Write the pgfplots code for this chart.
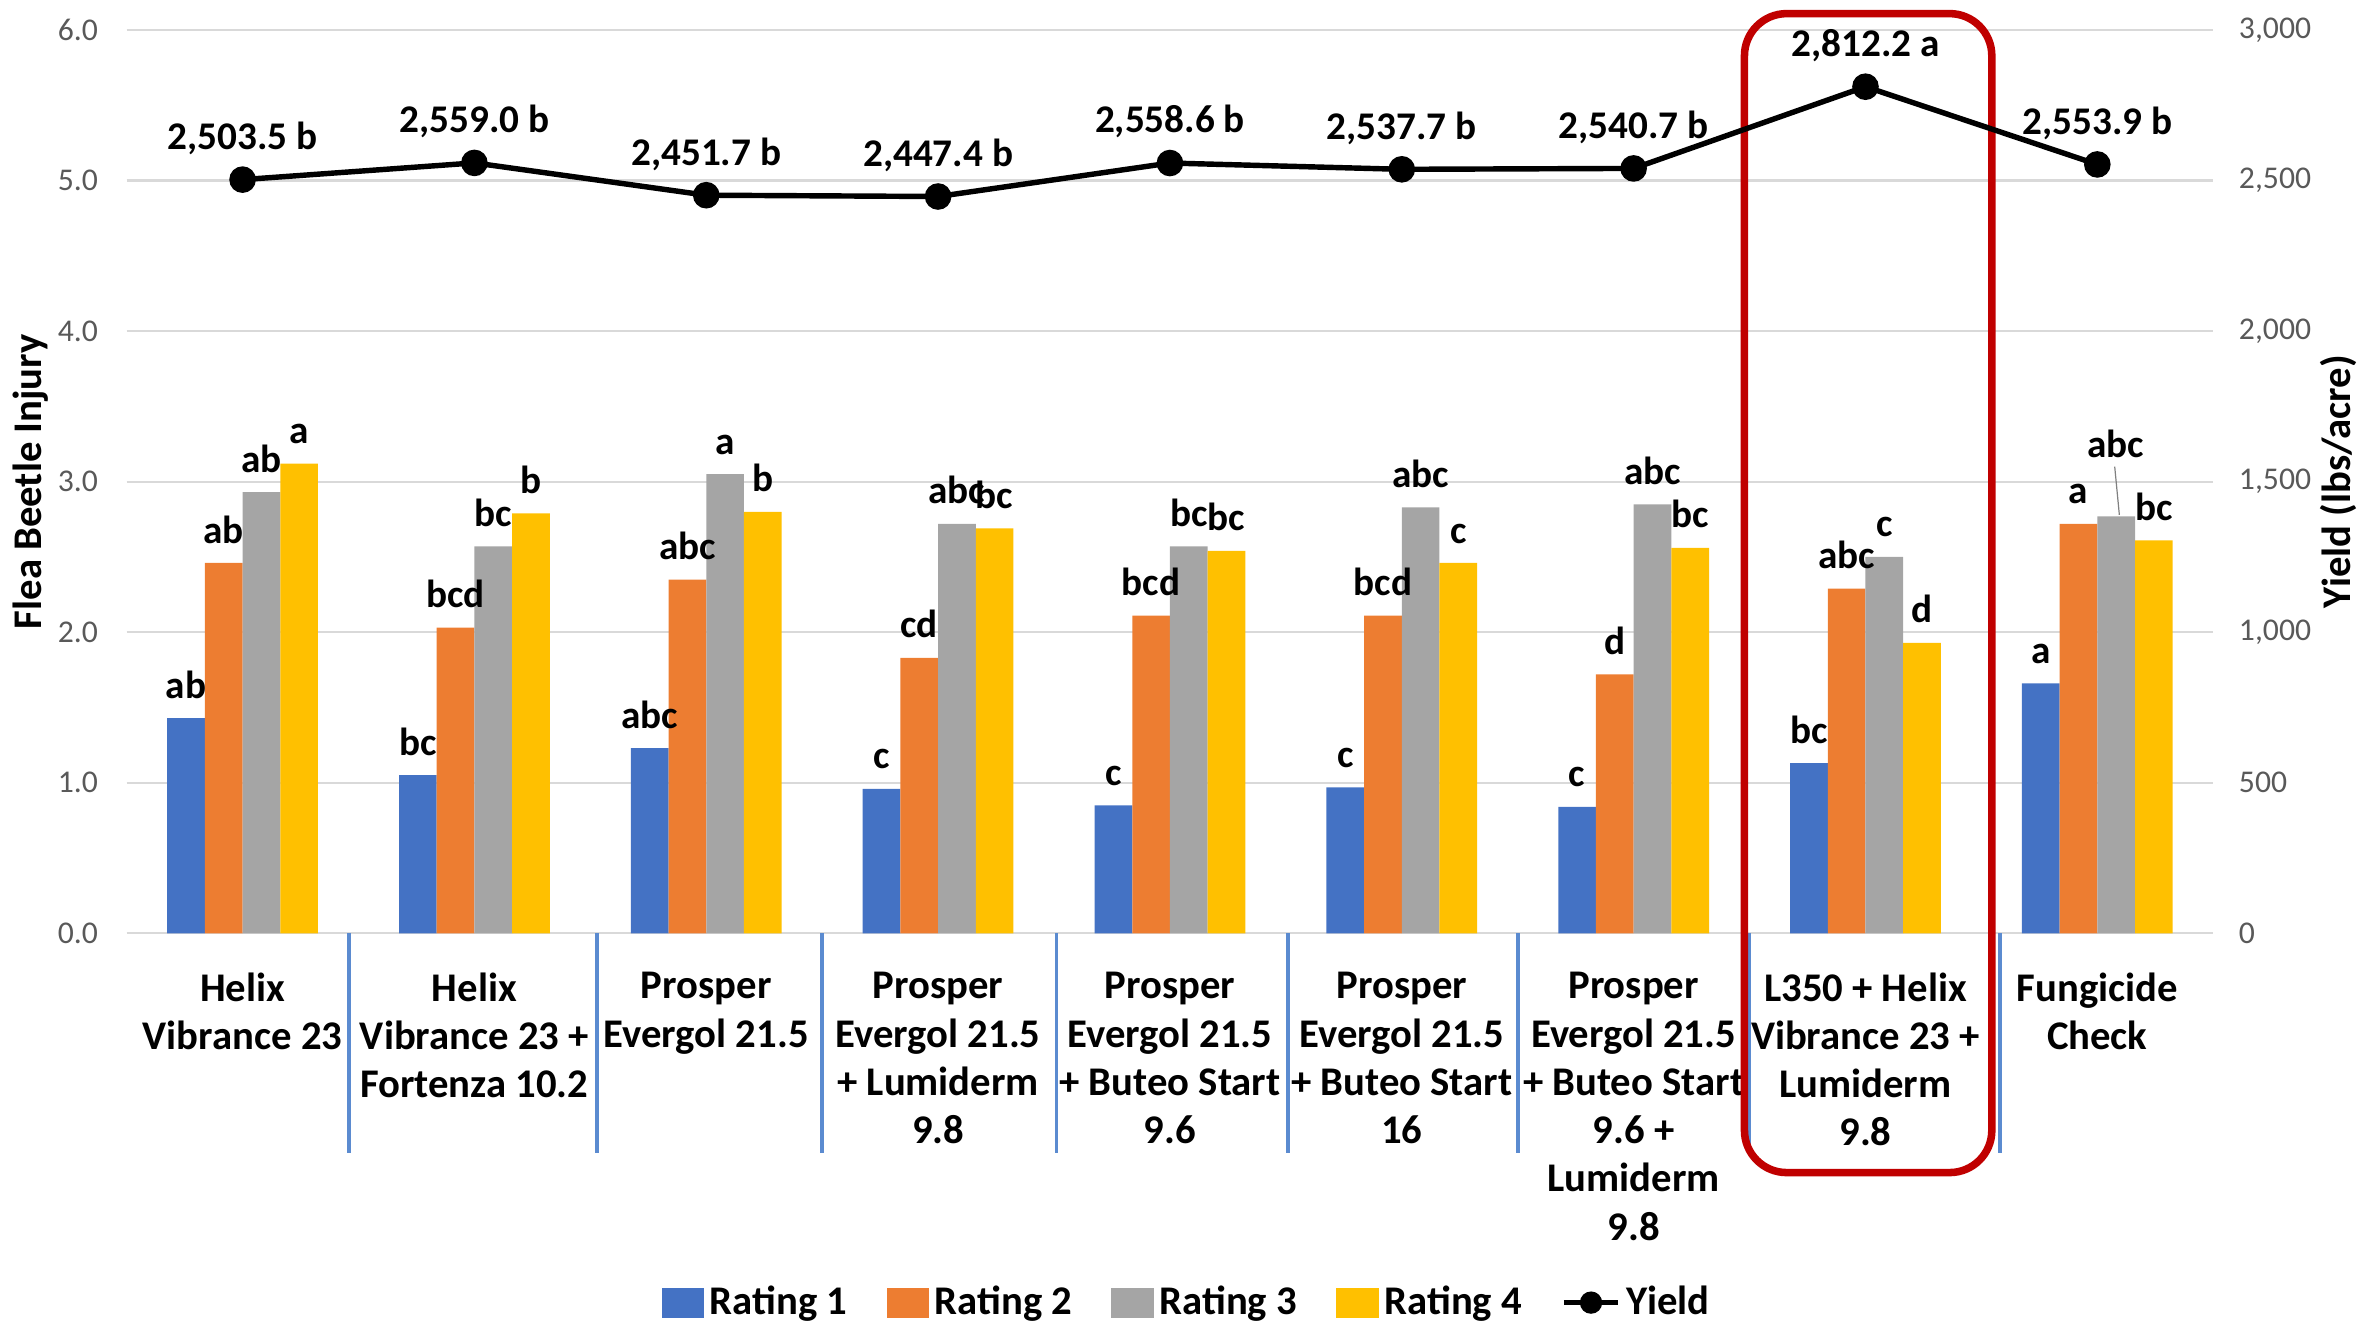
\documentclass[border=0pt]{standalone}
\usepackage{fontspec}
\setmainfont{Carlito}
\usepackage{pgfplots}
\pgfplotsset{compat=1.18}
\usetikzlibrary{calc}
\definecolor{r1}{HTML}{4472C4}
\definecolor{r2}{HTML}{ED7D31}
\definecolor{r3}{HTML}{A5A5A5}
\definecolor{r4}{HTML}{FFC000}
\definecolor{tickgray}{HTML}{595959}
\definecolor{gridgray}{HTML}{D9D9D9}
\definecolor{boxred}{HTML}{C00000}
\definecolor{sepblue}{HTML}{5B8BD0}
\pgfplotsset{
  barleg/.style={legend image code/.code={\fill[##1] (0pt,-5pt) rectangle (14pt,5pt);}},
}
\begin{document}
\begin{tikzpicture}
\begin{axis}[
  name=ax,
  width=692pt, height=299.5pt, scale only axis,
  xmin=-0.5, xmax=8.5, ymin=0, ymax=6,
  ybar=0pt, bar width=12.5pt,
  xtick={0,...,8},
  xticklabels={{Helix\\Vibrance 23},{Helix\\Vibrance 23 +\\Fortenza 10.2},{Prosper\\Evergol 21.5},{Prosper\\Evergol 21.5\\+ Lumiderm\\9.8},{Prosper\\Evergol 21.5\\+ Buteo Start\\9.6},{Prosper\\Evergol 21.5\\+ Buteo Start\\16},{Prosper\\Evergol 21.5\\+ Buteo Start\\9.6 +\\Lumiderm\\9.8},{L350 + Helix\\Vibrance 23 +\\Lumiderm\\9.8},{Fungicide\\Check}},
  xticklabel style={font=\fontsize{13.5}{16}\selectfont\bfseries, align=center, anchor=north, inner sep=0pt, yshift=-12.8pt, execute at begin node=\strut},
  ytick={0,1,...,6},
  yticklabel={\pgfmathprintnumber[fixed,fixed zerofill,precision=1,assume math mode=true]{\tick}},
  yticklabel style={font=\fontsize{10.5}{12}\selectfont, color=tickgray, xshift=-6pt},
  major tick length=0pt,
  ymajorgrids, grid style={gridgray, line width=0.8pt},
  axis line style={draw=none},
  ylabel={Flea Beetle Injury},
  ylabel style={font=\fontsize{13.5}{16}\selectfont\bfseries, at={(axis description cs:-0.046,0.5)}, anchor=center},
  clip=false,
  point meta=explicit symbolic,
  nodes near coords,
  every node near coord/.append style={font=\fontsize{13}{15}\selectfont\bfseries, black, yshift=3pt},
  legend style={at={(0.509,-0.409)}, anchor=center, draw=none, legend columns=5,
    font=\fontsize{13.5}{16}\selectfont\bfseries,
    /tikz/every even column/.append style={column sep=11pt}},
  legend cell align=left,
]
\addplot[fill=r1, draw=none, barleg] coordinates {
(0,1.43)[ab] (1,1.05)[bc] (2,1.23)[abc] (3,0.96)[c] (4,0.85)[c] (5,0.97)[c] (6,0.84)[c] (7,1.13)[bc] (8,1.66)[a]};
\addlegendentry{Rating 1}
\addplot[fill=r2, draw=none, barleg] coordinates {
(0,2.46)[ab] (1,2.03)[bcd] (2,2.35)[abc] (3,1.83)[cd] (4,2.11)[bcd] (5,2.11)[bcd] (6,1.72)[d] (7,2.29)[abc] (8,2.72)[a]};
\addlegendentry{Rating 2}
\addplot[fill=r3, draw=none, barleg] coordinates {
(0,2.93)[ab] (1,2.57)[bc] (2,3.05)[a] (3,2.72)[abc] (4,2.57)[bc] (5,2.83)[abc] (6,2.85)[abc] (7,2.50)[c] (8,2.77)[]};
\addlegendentry{Rating 3}
\addplot[fill=r4, draw=none, barleg] coordinates {
(0,3.12)[a] (1,2.79)[b] (2,2.80)[b] (3,2.69)[bc] (4,2.54)[bc] (5,2.46)[c] (6,2.56)[bc] (7,1.93)[d] (8,2.61)[bc]};
\addlegendentry{Rating 4}
\addlegendimage{legend image code/.code={\draw[black, line width=1.8pt] (0pt,0pt) -- (18pt,0pt); \fill[black] (9pt,0pt) circle (3.5pt);}}
\addlegendentry{Yield}
% annotation for Fungicide Check, Rating 3
\node[font=\fontsize{13}{15}\selectfont\bfseries, anchor=base] at (axis cs:8.08,3.16) {abc};
\draw[gray, line width=0.4pt] (axis cs:8.075,3.1) -- (axis cs:8.095,2.78);
% category separators
\pgfplotsinvokeforeach{0.46,1.53,2.5,3.51,4.51,5.5,6.5,7.58}{
  \draw[sepblue, line width=1.2pt] (axis cs:#1,0) -- (axis cs:#1,-1.46);
}
% highlight box
\draw[boxred, line width=2.5pt, rounded corners=14pt] (axis cs:6.478,6.11) rectangle (axis cs:7.545,-1.59);
\end{axis}
\begin{axis}[
  width=692pt, height=299.5pt, scale only axis,
  xmin=-0.5, xmax=8.5, ymin=0, ymax=3000,
  axis x line=none, axis y line*=right,
  axis line style={draw=none},
  ytick={0,500,...,3000},
  yticklabel={\pgfmathprintnumber[assume math mode=true,1000 sep={,}]{\tick}},
  yticklabel style={font=\fontsize{10.5}{12}\selectfont, color=tickgray, xshift=5pt},
  major tick length=0pt,
  ylabel={Yield (lbs/acre)},
  ylabel style={font=\fontsize{13.5}{16}\selectfont\bfseries, at={(axis description cs:1.06,0.5)}, anchor=center},
  clip=false,
  point meta=explicit symbolic,
  nodes near coords,
  every node near coord/.append style={font=\fontsize{13}{15}\selectfont\bfseries, black, anchor=south, yshift=4pt},
]
\addplot[black, line width=1.8pt, mark=*, mark size=3.5pt, mark options={solid}] coordinates {
(0,2503.5)[2,503.5 b] (1,2559.0)[2,559.0 b] (2,2451.7)[2,451.7 b] (3,2447.4)[2,447.4 b] (4,2558.6)[2,558.6 b] (5,2537.7)[2,537.7 b] (6,2540.7)[2,540.7 b] (7,2812.2)[2,812.2 a] (8,2553.9)[2,553.9 b]};
\end{axis}
\pgfresetboundingbox
\path[use as bounding box] ($(ax.south west)+(-42pt,-129.5pt)$) rectangle ($(ax.north east)+(50pt,10pt)$);
\end{tikzpicture}
\end{document}
